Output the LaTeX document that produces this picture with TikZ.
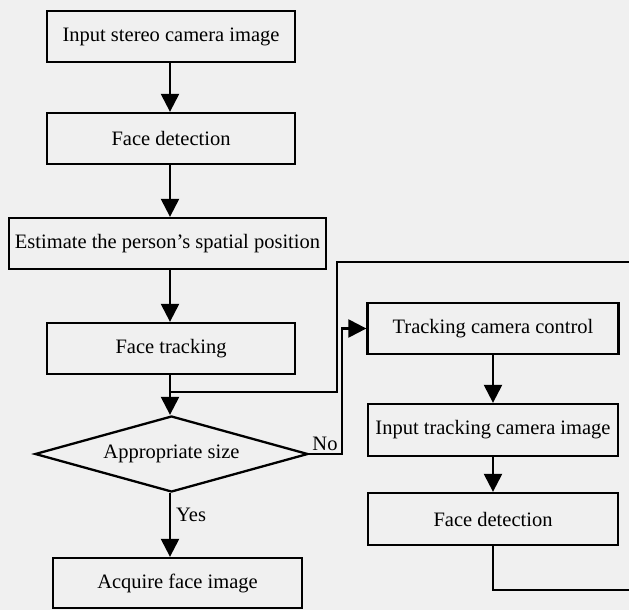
\documentclass[tikz,border=0pt]{standalone}
\usepackage{fontspec}
\setmainfont{Liberation Serif}
\usetikzlibrary{arrows.meta,shapes.geometric}
\tikzset{
  stepbox/.style={draw=black,line width=2.3pt,minimum height=51pt,inner sep=0pt,
    font=\fontsize{20.5}{24}\selectfont},
  decide/.style={draw=black,line width=2.3pt,diamond,inner sep=0pt,aspect=3.6,
    minimum width=273pt,minimum height=76pt,font=\fontsize{20.5}{24}\selectfont},
  arr/.style={line width=2.3pt,-{Triangle[length=18pt,width=18pt]}},
  ln/.style={line width=2.3pt},
  lbl/.style={font=\fontsize{20.5}{24}\selectfont,inner sep=0pt}
}
\begin{document}
\begin{tikzpicture}[x=1pt,y=-1pt]
\fill[black!6] (0,0) rectangle (629,610);
\useasboundingbox (0,0) rectangle (629,610);

\node[stepbox,minimum width=248pt] (b1) at (171,36.5) {Input stereo camera image};
\node[stepbox,minimum width=248pt] (b2) at (171,138.5) {Face detection};
\node[stepbox,minimum width=317pt] (b3) at (167.5,243.5) {Estimate the person’s spatial position};
\node[stepbox,minimum width=248pt] (b4) at (171,348.5) {Face tracking};
\node[decide] (d) at (171.5,454) {Appropriate size};
\node[stepbox,minimum width=249pt,minimum height=50pt] (acq) at (177.5,583) {Acquire face image};

\node[stepbox,minimum width=251pt] (t1) at (493,328.5) {Tracking camera control};
\node[stepbox,minimum width=250pt,minimum height=52pt] (t2) at (493,430) {Input tracking camera image};
\node[stepbox,minimum width=250pt,minimum height=52pt] (t3) at (493,519) {Face detection};

\coordinate (c1) at (645,590);
\coordinate (c2) at (337,262);
\coordinate (jn) at (171,392);
\coordinate (nb) at (342,454);

\draw[arr] (b1.south -| 170,0) -- (b2.north -| 170,0);
\draw[arr] (b2.south -| 170,0) -- (b3.north -| 170,0);
\draw[arr] (b3.south -| 170,0) -- (b4.north -| 170,0);
\draw[arr] (b4.south -| 170,0) -- (d.north -| 170,0);
\draw[arr] (d.south -| 170,0) -- (acq.north -| 170,0);
\draw[arr] (t1.south) -- (t2.north);
\draw[arr] (t2.south) -- (t3.north);
\draw[ln] (t3.south) |- (c1) |- (c2) |- (jn -| 170,0);
\draw[arr] (d.east) -- (nb) |- (t1.west);

\node[lbl,anchor=west] (yes) at (176,515) {Yes};
\node[lbl,anchor=south] (no) at (325,451) {No};
\end{tikzpicture}
\end{document}
